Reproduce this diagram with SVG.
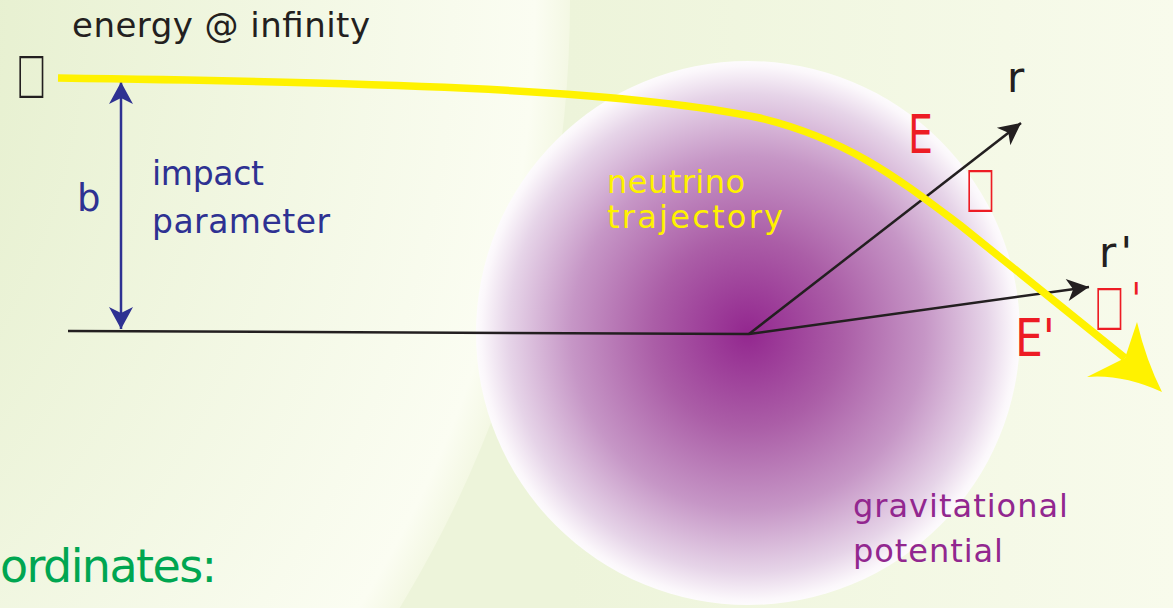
<svg xmlns="http://www.w3.org/2000/svg" width="1173" height="608" viewBox="0 0 1173 608">
<defs>
<style>
.t{font-family:"DejaVu Sans",sans-serif;}
.k{fill:#231f20;}
.bl{fill:#2e3192;}
.yl{fill:#fff200;}
.rd{fill:#ed1c24;}
.pu{fill:#92278f;}
.gr{fill:#00a651;}
.tofu{font-family:"Liberation Sans",sans-serif;font-size:61px;}
</style>
<radialGradient id="bgL" cx="-600" cy="0" r="1170" gradientUnits="userSpaceOnUse">
<stop offset="0.45" stop-color="#e5efcd"/>
<stop offset="0.97" stop-color="#fbfdf2"/>
<stop offset="1" stop-color="#f4f8e4"/>
</radialGradient>
<linearGradient id="bgR" x1="570" y1="0" x2="1173" y2="0" gradientUnits="userSpaceOnUse">
<stop offset="0" stop-color="#edf4da"/>
<stop offset="1" stop-color="#f8fbec"/>
</linearGradient>
<radialGradient id="sph" cx="748" cy="333" r="272" gradientUnits="userSpaceOnUse">
<stop offset="0" stop-color="#93278f"/>
<stop offset="0.35" stop-color="#ab5ea7"/>
<stop offset="0.65" stop-color="#c696c6"/>
<stop offset="0.88" stop-color="#e6d4e8"/>
<stop offset="0.98" stop-color="#fbf7fb"/>
<stop offset="1" stop-color="#fdfbfd"/>
</radialGradient>
<marker id="ab" markerUnits="userSpaceOnUse" markerWidth="26" markerHeight="26" viewBox="-23 -13 26 26" refX="0" refY="0" orient="auto-start-reverse">
<path d="M0,0 L-22,-12 L-16,0 L-22,12 Z" fill="#2e3192"/>
</marker>
<marker id="ak" markerUnits="userSpaceOnUse" markerWidth="26" markerHeight="26" viewBox="-23 -13 26 26" refX="0" refY="0" orient="auto">
<path d="M0,0 L-22,-11 L-16,0 L-22,11 Z" fill="#231f20"/>
</marker>
</defs>
<g id="background">
<rect width="1173" height="608" fill="url(#bgR)"/>
<circle cx="-600" cy="0" r="1170" fill="url(#bgL)"/>
</g>
<g id="potential-sphere">
<circle cx="748" cy="333" r="272" fill="url(#sph)"/>
</g>
<g id="connectors" fill="none">
<line x1="68" y1="331" x2="749" y2="334" stroke="#231f20" stroke-width="2.5"/>
<line x1="121" y1="82" x2="121" y2="329" stroke="#2e3192" stroke-width="2.5" marker-start="url(#ab)" marker-end="url(#ab)"/>
<line x1="749" y1="334" x2="1021" y2="123" stroke="#231f20" stroke-width="2.5" marker-end="url(#ak)"/>
<line x1="749" y1="334" x2="1089" y2="287" stroke="#231f20" stroke-width="2.5" marker-end="url(#ak)"/>
<path d="M58,78 C350,82 620,88 760,118 C850,140 900,180 960,225 L1125,358" stroke="#fff200" stroke-width="7.5"/>
<path d="M1162,392 Q1122,374 1087,377 L1125,358 L1137,322 Q1146,360 1162,392 Z" fill="#fff200"/>
</g>
<g id="label-energy">
<text class="tofu k" transform="translate(15,97.5) scale(0.72,1)">&#xF065;</text>
<text class="t k" x="72" y="37" font-size="34" textLength="298">energy @ infinity</text>
</g>
<g id="label-impact">
<text class="t bl" x="77" y="211" font-size="37">b</text>
<text class="t bl" x="152" y="185" font-size="33" textLength="112">impact</text>
<text class="t bl" x="152" y="233" font-size="33" textLength="178">parameter</text>
</g>
<g id="label-trajectory">
<text class="t yl" x="607" y="193" font-size="32" textLength="138">neutrino</text>
<text class="t yl" x="607" y="228" font-size="32" textLength="176">trajectory</text>
</g>
<g id="label-r">
<text class="t rd" x="908" y="153" font-size="54" textLength="25" lengthAdjust="spacingAndGlyphs">E</text>
<text class="tofu rd" transform="translate(964,211.5) scale(0.72,1)">&#xF065;</text>
<text class="t k" x="1007" y="92" font-size="42">r</text>
</g>
<g id="label-rprime">
<text class="t k" x="1099" y="267" font-size="42" textLength="33">r'</text>
<text class="tofu rd" transform="translate(1093,329.5) scale(0.72,1)">&#xF065;<tspan font-family="DejaVu Sans" font-size="46" dx="8" dy="-14">'</tspan></text>
<text class="t rd" x="1015" y="356" font-size="52" textLength="40" lengthAdjust="spacingAndGlyphs">E'</text>
</g>
<g id="label-potential">
<text class="t pu" x="853" y="517" font-size="32" textLength="215">gravitational</text>
<text class="t pu" x="853" y="562" font-size="32" textLength="150">potential</text>
</g>
<g id="label-coordinates">
<text class="t gr" x="0" y="582" font-size="46" textLength="217">ordinates:</text>
</g>
</svg>
